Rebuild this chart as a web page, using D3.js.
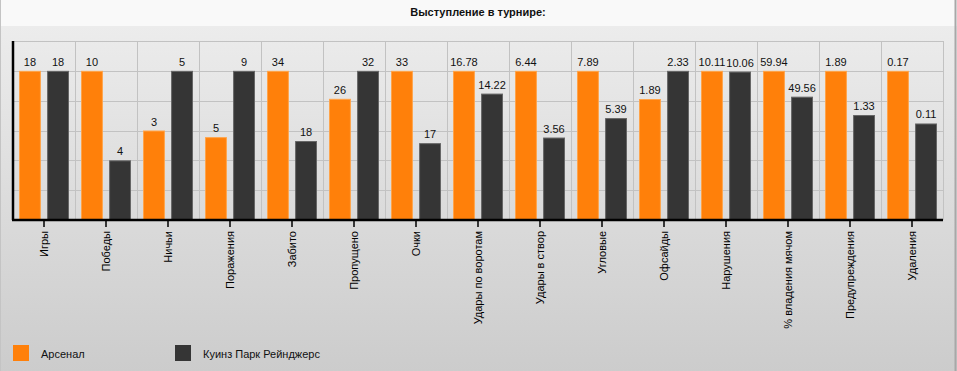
<!DOCTYPE html>
<meta charset="utf-8">
<style>
  body { margin: 0; background: #fff; }
  svg { display: block; font-family: Arial, "Liberation Sans", sans-serif; }
</style>
<svg></svg>
<script src="https://cdn.jsdelivr.net/npm/d3@7/dist/d3.min.js"></script>
<script>

var categories = ["Игры", "Победы", "Ничьи", "Поражения", "Забито", "Пропущено", "Очки",
                  "Удары по воротам", "Удары в створ", "Угловые", "Офсайды", "Нарушения",
                  "% владения мячом", "Предупреждения", "Удаления"];
var arsenal = [18, 10, 3, 5, 34, 26, 33, 16.78, 6.44, 7.89, 1.89, 10.11, 59.94, 1.89, 0.17];
var qpr     = [18, 4, 5, 9, 18, 32, 17, 14.22, 3.56, 5.39, 2.33, 10.06, 49.56, 1.33, 0.11];
var teams   = ["Арсенал", "Куинз Парк Рейнджерс"];
var colours = ["#ff800a", "#353535"];
var strokes = ["#ffa44a", "#666666"];

var width = 957,
    height = 371,
    svg = d3.select("svg").attr("width", width).attr("height", height),
    plot = {left: 13, right: 943, top: 41, bottom: 220};

var defs = svg.append("defs");
var grad = defs.append("linearGradient").attr("id", "bg").attr("x1", 0).attr("x2", 0).attr("y1", 0).attr("y2", 1);
grad.append("stop").attr("offset", "0%").attr("stop-color", "#ececec");
grad.append("stop").attr("offset", "100%").attr("stop-color", "#cccccc");

// backgrounds
svg.append("rect").attr("x", 0).attr("y", 0).attr("width", width).attr("height", 26).attr("fill", "#f9f9f9");
svg.append("rect").attr("x", 0).attr("y", 26).attr("width", width).attr("height", height - 26).attr("fill", "url(#bg)");
svg.append("line").attr("x1", 0.5).attr("x2", 0.5).attr("y1", 0).attr("y2", height).attr("stroke", "#c4c4c4");
svg.append("line").attr("x1", width - 1.5).attr("x2", width - 1.5).attr("y1", 0).attr("y2", height).attr("stroke", "#a8a8a8").attr("stroke-width", 2);

svg.append("text")
    .attr("x", 478).attr("y", 16)
    .attr("text-anchor", "middle")
    .attr("font-size", 11).attr("font-weight", "bold")
    .attr("fill", "#111")
    .text("Выступление в турнире:");

var rows = categories.map((c, i) => {
  var m = Math.max(arsenal[i], qpr[i]);
  return {name: c, values: [arsenal[i], qpr[i]], norm: [arsenal[i] / m, qpr[i] / m]};
});

var x0 = d3.scaleBand().domain(categories).range([plot.left, plot.right]).padding(0),
    x1 = d3.scaleBand().domain([0, 1]).range([6, 56]).paddingInner(0.22),
    y = d3.scaleLinear().domain([0, 1.2]).range([plot.bottom, plot.top]);

// grid
var g = svg.append("g");
g.selectAll(".hgrid").data(y.ticks(6))
  .enter().append("line")
    .attr("x1", plot.left).attr("x2", plot.right)
    .attr("y1", d => Math.round(y(d)) + 0.5).attr("y2", d => Math.round(y(d)) + 0.5)
    .attr("stroke", "#c2c2c2");
g.selectAll(".vgrid").data(categories.map(c => x0(c) + x0.bandwidth()).concat([plot.left]))
  .enter().append("line")
    .attr("x1", d => Math.round(d) + 0.5).attr("x2", d => Math.round(d) + 0.5)
    .attr("y1", plot.top).attr("y2", plot.bottom)
    .attr("stroke", "#c2c2c2");

// bars
var grp = svg.append("g").selectAll("g").data(rows)
  .enter().append("g")
    .attr("transform", d => "translate(" + x0(d.name) + ",0)");

grp.selectAll("rect").data(d => d.norm.map((v, i) => ({v: v, i: i})))
  .enter().append("rect")
    .attr("x", d => x1(d.i) + 0.5)
    .attr("y", d => y(d.v) + 0.5)
    .attr("width", x1.bandwidth() - 1)
    .attr("height", d => plot.bottom - y(d.v))
    .attr("fill", d => colours[d.i])
    .attr("stroke", d => strokes[d.i]);

grp.selectAll("text").data(d => d.norm.map((v, i) => ({v: v, i: i, raw: d.values[i]})))
  .enter().append("text")
    .attr("x", d => x1(d.i) + x1.bandwidth() / 2)
    .attr("y", d => y(d.v) - 5)
    .attr("text-anchor", "middle")
    .attr("font-size", 11)
    .attr("fill", "#111")
    .text(d => d.raw);

// axes
var xAxis = svg.append("g")
    .attr("transform", "translate(0," + (plot.bottom + 1) + ")")
    .call(d3.axisBottom(x0).tickSize(6).tickSizeOuter(0));
xAxis.select(".domain").remove();
xAxis.selectAll("line").attr("stroke", "#000").attr("stroke-width", 1.5);
xAxis.selectAll("text")
    .attr("font-size", 11)
    .attr("font-family", "Arial, 'Liberation Sans', sans-serif")
    .attr("fill", "#000")
    .attr("transform", "rotate(-90)")
    .attr("text-anchor", "end")
    .attr("x", -10).attr("y", 0).attr("dy", "0.35em");

svg.append("line").attr("x1", plot.left - 1).attr("x2", plot.right).attr("y1", plot.bottom).attr("y2", plot.bottom)
    .attr("stroke", "#000").attr("stroke-width", 2.5);
svg.append("line").attr("x1", plot.left).attr("x2", plot.left).attr("y1", plot.top).attr("y2", plot.bottom)
    .attr("stroke", "#000").attr("stroke-width", 2.5);

// legend
var leg = svg.append("g").selectAll("g").data(teams)
  .enter().append("g")
    .attr("transform", (d, i) => "translate(" + (13 + i * 162) + ",345)");
leg.append("rect").attr("width", 16).attr("height", 16).attr("fill", (d, i) => colours[i]);
leg.append("text").attr("x", 28).attr("y", 9).attr("dy", "0.35em")
    .attr("font-size", 11).attr("fill", "#111").text(d => d);

</script>
